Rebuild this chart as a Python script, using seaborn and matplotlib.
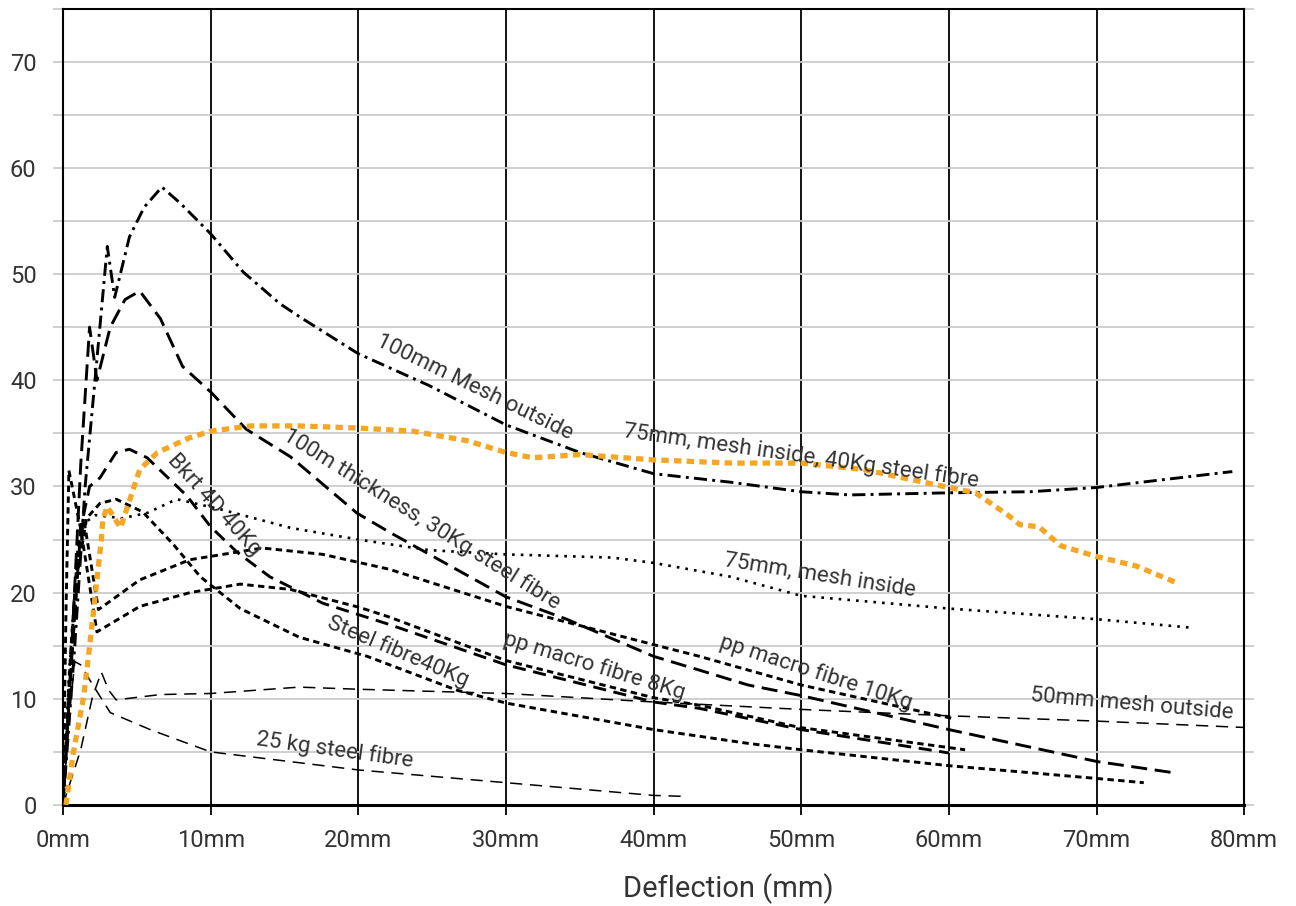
import matplotlib
matplotlib.use("Agg")
import matplotlib.pyplot as plt
import seaborn as sns
from matplotlib.ticker import MultipleLocator

# Load-deflection curves (x = deflection mm, y = load)
mesh100_x = [0, 0.8, 1.5, 2.3, 3.0, 3.5, 4.5, 5.5, 6.7, 8, 10, 12.2, 14.7, 16, 20, 24.8, 30, 35, 40, 45.2, 50, 53.3, 60, 65.5, 70, 79.2]
mesh100_y = [0, 15, 30, 42, 52.6, 47.8, 53.5, 56.3, 58.2, 56.6, 53.8, 50.2, 47.2, 46.0, 42.5, 39.5, 35.8, 33.2, 31.2, 30.4, 29.5, 29.2, 29.4, 29.5, 29.9, 31.4]

thick100_x = [0, 0.6, 1.2, 1.8, 2.3, 3.2, 4.2, 5.2, 6.6, 8.1, 10, 12.4, 15.4, 19.9, 22.1, 30, 34.1, 40, 43.1, 46.4, 50, 60, 70, 75.4]
thick100_y = [0, 15, 32, 45, 40, 45, 47.6, 48.4, 45.8, 41.3, 38.9, 35.4, 32.8, 27.5, 25.7, 19.6, 17.5, 14.0, 12.7, 11.3, 10.3, 7.1, 4.1, 3.0]

bkrt_x = [0, 0.6, 1.2, 1.8, 2.5, 3.6, 4.5, 5.7, 8.4, 10, 11.8, 14, 17.6, 22.1, 30, 40, 43.1, 50, 60]
bkrt_y = [0, 14, 26, 30, 30.8, 33.2, 33.5, 32.7, 29.1, 26.2, 23.8, 21.5, 19.0, 17.0, 13.2, 9.7, 9.1, 7.1, 4.9]

steel40_x = [0, 0.5, 1.0, 1.6, 2.5, 3.6, 5.4, 7.5, 9.3, 12, 16, 20.6, 26.7, 30, 40, 46.4, 50, 60, 70, 73.2]
steel40_y = [0, 12, 22, 27, 28.4, 28.8, 27.6, 24.5, 21.5, 18.5, 15.8, 14.0, 10.8, 9.6, 7.1, 5.8, 5.2, 3.7, 2.5, 2.1]

pp10_x = [0, 0.5, 1.0, 1.4, 2.4, 5.2, 8.6, 13.5, 17.6, 22.1, 30, 40, 43.1, 50, 60.4]
pp10_y = [0, 14, 24, 27, 18.4, 21.2, 23.1, 24.2, 23.6, 22.2, 18.7, 15.1, 14.0, 11.3, 8.1]

pp8_x = [0, 0.2, 0.4, 1.2, 2.3, 5.2, 8.6, 12, 15.4, 20.1, 22.1, 30, 40, 43.1, 49.9, 61.1]
pp8_y = [0, 18, 31.5, 26, 16.3, 18.7, 20.0, 20.8, 20.3, 18.6, 17.7, 13.6, 10.1, 9.4, 7.3, 5.2]

mesh75_x = [0, 0.4, 0.9, 1.4, 2.2, 4, 5.7, 7.7, 10.8, 15.4, 20, 24.8, 30, 37.2, 40, 45.2, 50, 60, 70, 76.4]
mesh75_y = [0, 12, 22, 26.5, 27.3, 27.0, 27.5, 28.8, 27.8, 26.1, 25.0, 24.0, 23.6, 23.3, 22.8, 21.5, 19.7, 18.5, 17.5, 16.7]

mesh75_40_x = [0.2, 0.7, 1.4, 1.8, 2.2, 2.6, 2.7, 3.0, 3.9, 4.3, 5.2, 6.4, 8.6, 10, 12.7, 16, 20, 23.7, 27.4, 30, 31.8, 35, 40, 45.3, 50, 54.2, 60, 61.8, 64, 64.8, 66.1, 67.6, 70, 72.7, 75.3]
mesh75_40_y = [0, 4.9, 10.2, 14.9, 20, 25, 26.9, 28.1, 26.1, 27.8, 31.6, 33.2, 34.6, 35.2, 35.7, 35.7, 35.5, 35.2, 34.3, 33.2, 32.7, 33.0, 32.5, 32.2, 32.2, 31.6, 29.9, 29.4, 27.3, 26.4, 26.2, 24.4, 23.4, 22.5, 21.0]

mesh50_x = [0, 1.2, 2.0, 2.6, 3.1, 3.6, 6.6, 10, 16, 20, 30, 40, 50, 60, 70, 80]
mesh50_y = [0, 5.2, 10.2, 12.5, 10.8, 9.9, 10.4, 10.5, 11.1, 10.9, 10.5, 9.7, 9.0, 8.4, 7.9, 7.3]

steel25_x = [0, 0.4, 0.8, 1.2, 1.8, 3.2, 5.9, 10, 20, 30, 40, 42.3]
steel25_y = [0, 8, 13.5, 13.2, 11.8, 8.7, 7.1, 5.0, 3.3, 2.1, 0.9, 0.8]

x_ticks = [0, 10, 20, 30, 40, 50, 60, 70, 80]
x_tick_labels = [f"{v}mm" for v in x_ticks]
y_ticks = [0, 10, 20, 30, 40, 50, 60, 70]

sns.set_theme(style="white")
plt.rcParams["font.family"] = ["Roboto", "DejaVu Sans"]
text_col = "#333333"
orange = "#f5a623"

fig = plt.figure(figsize=(12.96, 9.06), dpi=100)
ax = fig.add_axes([0.0486, 0.1115, 0.9114, 0.879])

# (x, y, colour, linewidth, dash pattern)
series = [
    (mesh50_x, mesh50_y, "black", 1.1, (8, 5)),
    (steel25_x, steel25_y, "black", 1.1, (8, 5)),
    (steel40_x, steel40_y, "black", 2.1, (2.2, 1.5)),
    (pp10_x, pp10_y, "black", 2.1, (2.2, 1.5)),
    (pp8_x, pp8_y, "black", 2.1, (2.2, 1.5)),
    (bkrt_x, bkrt_y, "black", 2.1, (4.5, 2.6)),
    (mesh75_x, mesh75_y, "black", 1.9, (1, 2.3)),
    (thick100_x, thick100_y, "black", 2.1, (5.5, 2.6)),
    (mesh100_x, mesh100_y, "black", 2.1, (4.5, 1.8, 1, 1.8)),
    (mesh75_40_x, mesh75_40_y, orange, 3.8, (1.4, 1.0)),
]
for xs, ys, col, lw, dash in series:
    sns.lineplot(x=xs, y=ys, ax=ax, color=col, linewidth=lw, sort=False, estimator=None, zorder=3)
    ln = ax.lines[-1]
    ln.set_linestyle((0, dash))
    ln.set_dash_capstyle("butt")

labels = [
    (27.9, 39.3, "100mm Mesh outside", -26),
    (50.0, 32.9, "75mm, mesh inside, 40Kg steel fibre", -8),
    (24.3, 26.9, "100m thickness, 30Kg steel fibre", -32),
    (10.2, 28.3, "Bkrt 4D 40Kg", -48),
    (51.3, 21.6, "75mm, mesh inside", -9),
    (51.0, 12.5, "pp macro fibre 10Kg", -18),
    (36.0, 13.1, "pp macro fibre 8Kg", -17),
    (22.7, 14.5, "Steel fibre40Kg", -23),
    (18.4, 5.2, "25 kg steel fibre", -8),
    (72.4, 9.5, "50mm mesh outside", -5),
]
for lx, ly, s, rot in labels:
    ax.text(lx, ly, s, rotation=rot, rotation_mode="anchor", ha="center", va="center",
            fontsize=16, color=text_col, zorder=4)

ax.set_xlim(0, 80)
ax.set_ylim(0, 75)
ax.set_xticks(x_ticks)
ax.set_xticklabels(x_tick_labels)
ax.set_yticks(y_ticks)
ax.yaxis.set_minor_locator(MultipleLocator(5))

ax.grid(axis="x", which="major", color="black", linewidth=1.3, zorder=1)
ax.grid(axis="y", which="both", color="#cccccc", linewidth=1.3, zorder=1)
ax.set_axisbelow(True)

ax.tick_params(axis="x", which="major", bottom=True, length=7, width=1.3, color="black",
               pad=10, labelsize=17, labelcolor=text_col)
ax.tick_params(axis="y", which="both", left=True, right=True, length=7, width=1.3,
               color="#cccccc", direction="out", pad=12, labelsize=17, labelcolor=text_col)

for side in ["left", "right", "top"]:
    ax.spines[side].set_color("black")
    ax.spines[side].set_linewidth(1.5)
ax.spines["bottom"].set_color("black")
ax.spines["bottom"].set_linewidth(2.2)

ax.set_xlabel("")
ax.set_ylabel("")
fig.text(0.562, 1 - 889 / 906, "Deflection (mm)", ha="center", va="center", fontsize=21, color=text_col)

fig.savefig("out.png", dpi=100)
